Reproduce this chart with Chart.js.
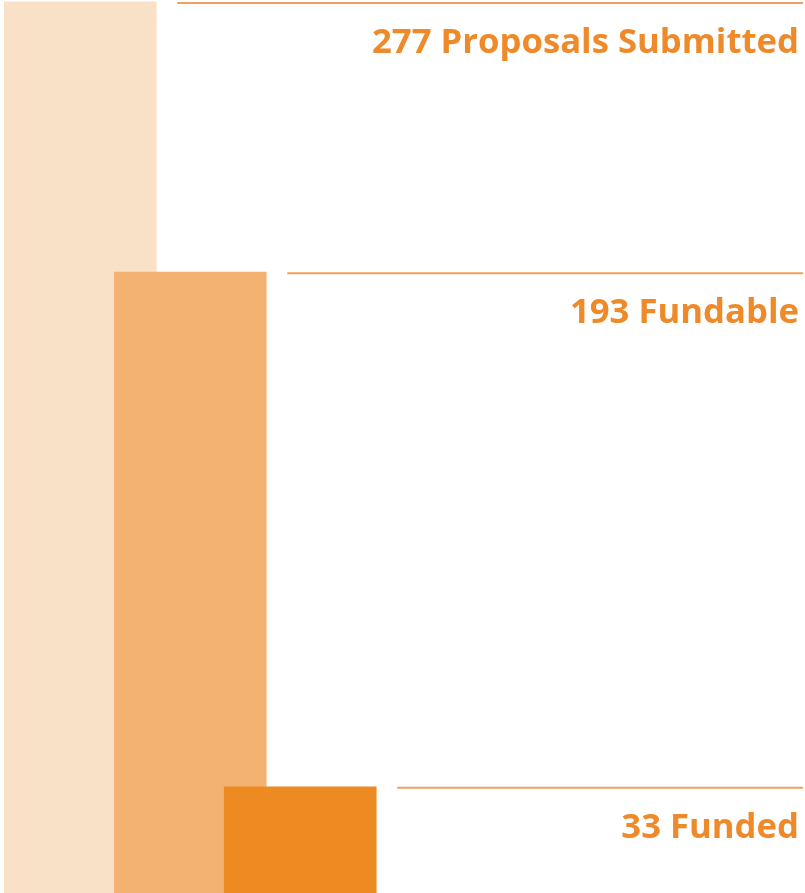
<!DOCTYPE html>
<html lang="en">
  <head>
    <meta charset="UTF-8" />
    <title>Proposals</title>
    <script src="https://cdn.jsdelivr.net/npm/chart.js"></script>
    <style>
      html, body { margin: 0; padding: 0; background: #fff; }
      canvas { display: block; }
    </style>
  </head>
  <body>
    <canvas id="my-chart" width="805" height="893"></canvas>

    <script>
      //chart data
      const stages = ["Proposals Submitted", "Fundable", "Funded"];
      const counts = [277, 193, 33];
      const barColors = ["#F9E1C8", "#F3B172", "#EE8A22"];

      //draw the rule + label next to each bar
      const labelPlugin = {
        id: "stageLabels",
        afterDatasetsDraw(chart) {
          const ctx = chart.ctx;
          const area = chart.chartArea;
          const bars = chart.getDatasetMeta(0).data;
          ctx.save();
          bars.forEach((bar, i) => {
            const right = bar.x + bar.width / 2;
            //line
            ctx.strokeStyle = "#F0A05C";
            ctx.lineWidth = 2;
            ctx.beginPath();
            ctx.moveTo(right + 21, bar.y + 1);
            ctx.lineTo(area.right - 2, bar.y + 1);
            ctx.stroke();
            //text
            ctx.fillStyle = "#EE8A2A";
            ctx.font = "bold 34.7px 'Open Sans'";
            ctx.textAlign = "right";
            ctx.textBaseline = "alphabetic";
            ctx.fillText(counts[i] + " " + stages[i], area.right - 6, bar.y + 51);
          });
          ctx.restore();
        },
      };

      const ctx = document.getElementById("my-chart").getContext("2d");
      const myChart = new Chart(ctx, {
        type: "bar",
        data: {
          datasets: [
            {
              label: "Proposals",
              data: counts.map((c, i) => ({ x: i, y: c })),
              backgroundColor: barColors,
              borderWidth: 0,
              barThickness: 152,
            },
          ],
        },
        options: {
          responsive: false,
          animation: false,
          layout: { padding: 0 },
          plugins: {
            legend: { display: false },
            tooltip: { enabled: false },
          },
          scales: {
            x: {
              type: "linear",
              display: false,
              offset: false,
              grid: { offset: false },
              min: -0.73,
              max: 6.59,
            },
            y: {
              display: false,
              min: 0,
              max: 277.6,
            },
          },
        },
        plugins: [labelPlugin],
      });
    </script>
  </body>
</html>
